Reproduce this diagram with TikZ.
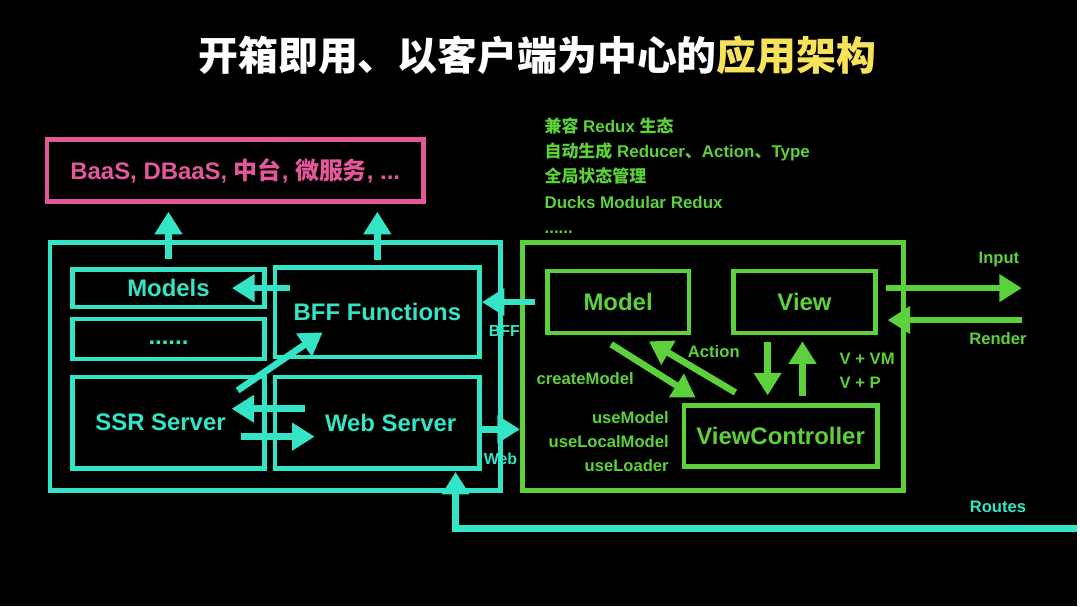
\documentclass[tikz,border=0pt]{standalone}
\usepackage{fontspec}
\setmainfont{Liberation Sans}
\newfontfamily\cjk{Noto Sans CJK SC}
\usetikzlibrary{arrows.meta}

\definecolor{cyanline}{HTML}{34E4C6}
\definecolor{pinkline}{HTML}{E4579A}
\definecolor{greenline}{HTML}{5CD13B}
\definecolor{titleyellow}{HTML}{F6E35A}

\begin{document}
\begin{tikzpicture}[x=0.75pt, y=-0.75pt,
    box/.style={draw, line width=3.5pt, inner sep=0pt, font=\bfseries\fontsize{18}{21}\selectfont},
    cybox/.style={box, draw=cyanline, text=cyanline},
    grbox/.style={box, draw=greenline, text=greenline},
    cyarr/.style={draw=cyanline, line width=5pt, -{Triangle[length=17pt,width=20pt]}},
    grarr/.style={draw=greenline, line width=5pt, -{Triangle[length=17pt,width=20pt]}},
    lbl/.style={font=\bfseries\fontsize{12.5}{18}\selectfont, inner sep=0pt}]
    \fill[black] (0,0) rectangle (1080,608);

    % title
    \node[text=white, font=\cjk\bfseries\fontsize{30}{36}\selectfont] (title) at (539,55)
        {开箱即用、以客户端为中心的\textcolor{titleyellow}{应用架构}};

    % backend side
    \node[box, draw=pinkline, text=pinkline, minimum width=283.5pt, minimum height=46.5pt] (svc) at (236,171)
        {BaaS, DBaaS, {\cjk 中台}, {\cjk 微服务}, ...};
    \node[cybox, minimum width=339pt, minimum height=186.75pt] (srv) at (276,367.5) {};
    \node[cybox, minimum width=144pt, minimum height=28.5pt] (models) at (169,289) {Models};
    \node[cybox, minimum width=144pt, minimum height=30pt] (dots) at (169,340) {\strut......};
    \node[cybox, minimum width=153.75pt, minimum height=67.5pt] (bff) at (378.5,313) {BFF Functions};
    \node[cybox, minimum width=144pt, minimum height=69pt] (ssr) at (169,424) {SSR Server\hspace*{12pt}};
    \node[cybox, minimum width=153.75pt, minimum height=69pt] (web) at (378.5,424) {\hspace*{20pt}Web Server};

    \draw[cyarr, shorten <=6pt, shorten >=6pt] (models.north) -- (models.north |- svc.south);
    \draw[cyarr, shorten <=4pt, shorten >=6pt] (bff.north) -- (bff.north |- svc.south);
    \draw[cyarr] ([xshift=13pt]bff.west |- models.east) -- ([xshift=-26pt]models.east);
    \draw[cyarr] ([shift={(-29,16)}]ssr.north east) -- ([shift={(50,-27)}]bff.south west);
    \draw[cyarr] ([shift={(32,-14)}]web.west) -- ([shift={(-35,-14)}]ssr.east);
    \draw[cyarr] ([shift={(-26,14)}]ssr.east) -- ([shift={(42,14)}]web.west);

    % client side
    \node[grbox, minimum width=286.5pt, minimum height=186.75pt] (client) at (715,367.5) {};
    \node[grbox, minimum width=106.5pt, minimum height=46.5pt] (model) at (620,303) {Model};
    \node[grbox, minimum width=106.5pt, minimum height=46.5pt] (view) at (807,303) {View};
    \node[grbox, minimum width=145.5pt, minimum height=45.75pt] (vc) at (783,437.5) {ViewController};

    \node[lbl, text=greenline, align=left, anchor=west, font=\bfseries\fontsize{12.75}{19}\selectfont] (notes) at (546,176)
        {{\cjk 兼容} Redux {\cjk 生态}\\
         {\cjk 自动生成} Reducer{\cjk 、}Action{\cjk 、}Type\\
         {\cjk 全局状态管理}\\
         Ducks Modular Redux\\
         ......};

    \draw[grarr] ([shift={(-7,9)}]model.south) -- ([shift={(14,-6)}]vc.north west);
    \draw[grarr] ([shift={(54,-11)}]vc.north west) -- ([shift={(31,6)}]model.south);
    \draw[grarr] ([shift={(-37,7)}]view.south) -- ([shift={(-13,-8)}]vc.north);
    \draw[grarr] ([shift={(22,-7)}]vc.north) -- ([shift={(-2,6)}]view.south);

    \node[lbl, text=greenline] (action) at (716,353) {Action};
    \node[lbl, text=greenline] (create) at (587,380) {createModel};
    \node[lbl, text=greenline, align=right, anchor=east] (hooks) at (671,443) {useModel\\useLocalModel\\useLoader};
    \node[lbl, text=greenline, align=left, anchor=west] (vvm) at (842,372) {V + VM\\V + P};

    % between the two sides
    \draw[cyarr] ([xshift=11.5pt]client.west |- model.west) -- (bff.east |- model.west);
    \draw[cyarr] ([yshift=-5pt]web.east) -- ([yshift=-5pt]web.east -| client.west);
    \node[lbl, text=cyanline, font=\bfseries\fontsize{12}{14}\selectfont] (bfflbl) at (506,332) {BFF};
    \node[lbl, text=cyanline, font=\bfseries\fontsize{12}{14}\selectfont] (weblbl) at (502,460) {Web};

    % outside
    \coordinate (inp) at (1025,289);
    \coordinate (rnd) at (1025,321);
    \coordinate (rts) at (1080,530);
    \draw[grarr] ([shift={(8,-14)}]view.east) -- (inp);
    \draw[grarr] (rnd) -- ([shift={(10,18)}]view.east);
    \draw[cyarr] (rts) -| ([shift={(181,-21)}]srv.south);
    \node[lbl, text=greenline] (inlbl) at (1002,260) {Input};
    \node[lbl, text=greenline] (rndlbl) at (1001,340) {Render};
    \node[lbl, text=cyanline] (rtslbl) at (1001,508) {Routes};
\end{tikzpicture}
\end{document}
